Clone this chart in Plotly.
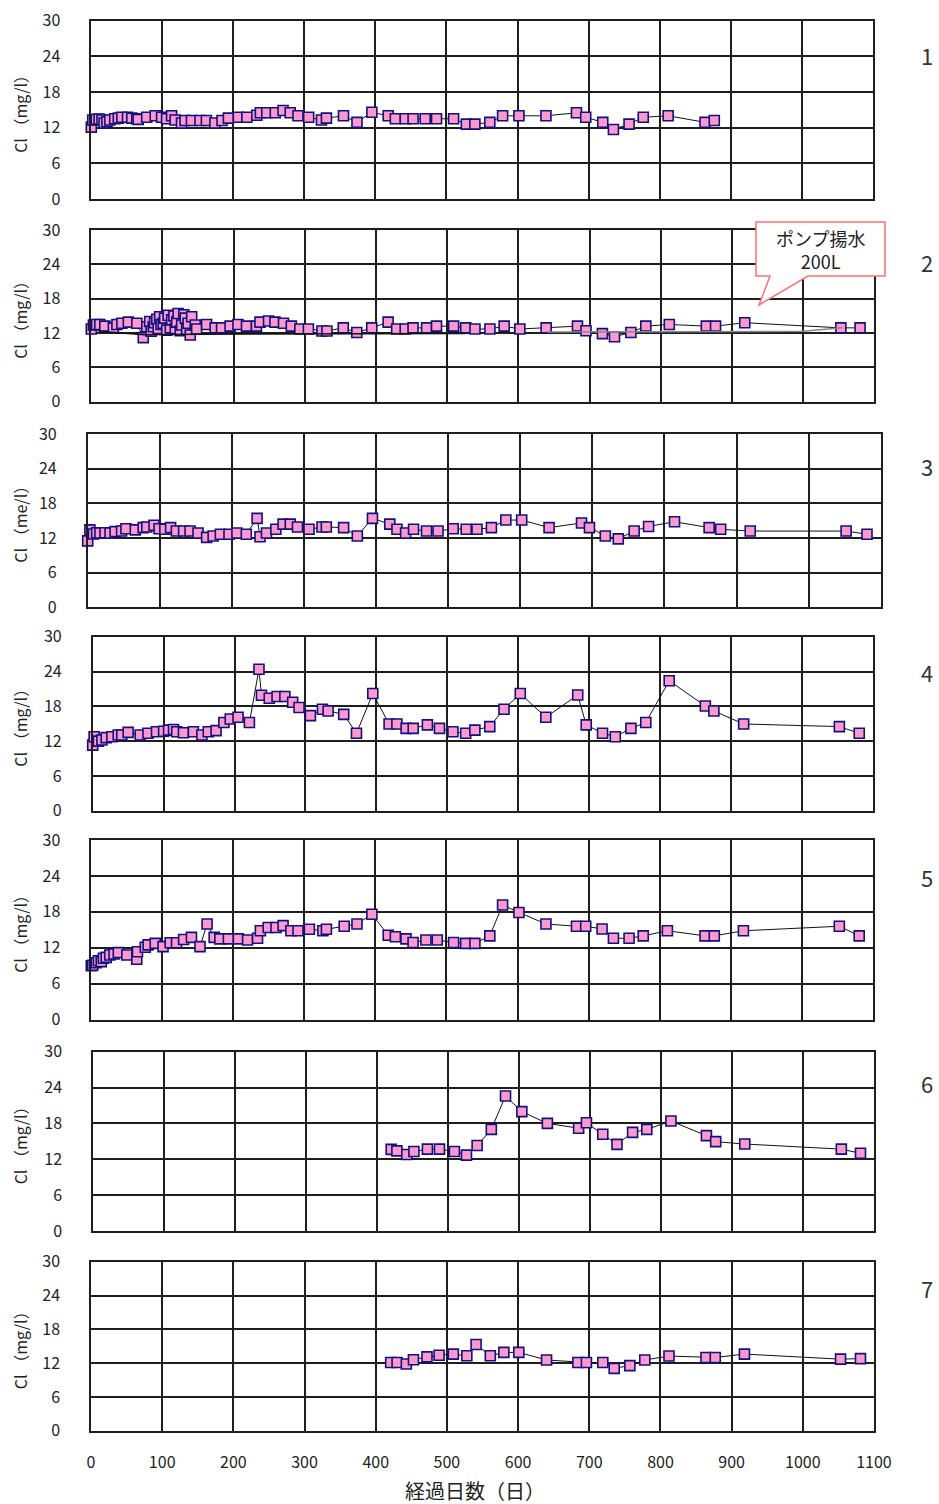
import plotly.graph_objects as go

W, H = 939, 1504

# ---------------- data ----------------
x_ticks = [0, 100, 200, 300, 400, 500, 600, 700, 800, 900, 1000, 1100]
y_ticks = [0, 6, 12, 18, 24, 30]
panel_labels = ["1", "2", "3", "4", "5", "6", "7"]
y_titles = ["Cl （mg/l）", "Cl （mg/l）", "Cl （me/l）", "Cl （mg/l）",
            "Cl （mg/l）", "Cl （mg/l）", "Cl （mg/l）"]
x_title = "経過日数（日）"
callout_text = "ポンプ揚水<br>200L"

days1 = [0, 2, 7, 11, 15, 18, 22, 26, 33, 38, 43, 51, 57, 64, 66, 78, 90, 99, 106, 113,
         118, 127, 132, 141, 153, 162, 174, 184, 193, 207, 219, 233, 238, 247, 259, 270,
         280, 291, 306, 324, 331, 355, 374, 395, 418, 428, 442, 453, 470, 486, 510, 528,
         540, 561, 579, 602, 640, 683, 696, 720, 735, 757, 777, 812, 864, 877]
cl1 = [12.1, 13.3, 13.4, 13.45, 13.3, 12.8, 13.0, 13.3, 13.5, 13.6, 13.75, 13.75, 13.6, 13.5,
       13.4, 13.75, 14.0, 13.75, 13.5, 14.0, 13.3, 12.8, 13.2, 13.2, 13.2, 13.2, 12.8, 13.2,
       13.6, 13.75, 13.75, 14.1, 14.5, 14.5, 14.5, 14.9, 14.5, 14.0, 13.75, 13.3, 13.6, 14.0,
       12.9, 14.6, 14.0, 13.5, 13.5, 13.5, 13.5, 13.5, 13.5, 12.6, 12.6, 12.9, 14.0, 14.0,
       14.0, 14.5, 13.75, 12.9, 11.7, 12.6, 13.75, 14.0, 12.9, 13.2]

days2 = [0, 3, 7.5, 12, 19, 31, 36, 43, 52, 64, 73, 78, 82, 84, 87, 89, 92, 94, 96, 98,
         101, 103, 106, 108, 111, 113, 116, 118, 120, 122, 125, 127, 130, 132, 134, 136, 139,
         141, 146, 148, 162, 174, 183, 195, 206, 218, 232, 237, 249, 258, 270, 281, 293, 305,
         324, 331, 354, 373, 394, 417, 429, 441, 452, 471, 485, 509, 526, 539, 560, 580, 602,
         639, 683, 695, 718, 735, 758, 779, 812, 864, 877, 918, 1053, 1080]
cl2 = [12.7, 13.4, 13.5, 13.5, 13.2, 12.9, 13.5, 13.7, 13.9, 13.7, 11.2, 13.1, 14.0, 12.3,
       13.1, 13.8, 14.4, 12.8, 14.85, 13.5, 13.7, 14.6, 12.5, 15.1, 12.9, 14.3, 15.0, 12.8,
       13.9, 15.4, 12.4, 13.4, 15.2, 14.6, 12.6, 13.7, 11.65, 14.85, 13.4, 12.7, 13.5, 12.9,
       12.9, 13.2, 13.5, 13.2, 13.2, 13.9, 14.1, 13.9, 13.7, 13.2, 12.7, 12.7, 12.35, 12.35,
       12.9, 12.1, 12.9, 13.9, 12.7, 12.7, 12.9, 12.9, 13.2, 13.2, 12.9, 12.7, 12.7, 13.2,
       12.7, 12.9, 13.2, 12.4, 11.9, 11.35, 12.1, 13.2, 13.5, 13.2, 13.2, 13.8, 12.9, 12.9]
# extra line-only series in panel 2
days2_b = [10, 75, 150, 320, 525]
cl2_b = [12.3, 11.7, 11.8, 11.9, 11.9]
days2_c = [640, 740, 860, 1000, 1055]
cl2_c = [12.2, 12.2, 12.3, 12.3, 12.9]

days3 = [0, 3, 8, 12.5, 17, 24, 31, 38, 47, 53, 66, 77, 82, 92, 99, 107, 115, 123, 133, 142,
         153, 165, 174, 184, 196, 207, 220, 235, 239, 248, 261, 271, 281, 291, 307, 325, 331,
         355, 374, 395, 419, 429, 441, 452, 470, 486, 507, 525, 540, 560, 580, 602, 640, 685,
         696, 718, 736, 758, 778, 814, 862, 878, 919, 1052, 1081]
cl3 = [11.5, 13.4, 12.7, 12.9, 12.85, 12.9, 12.85, 13.1, 13.2, 13.6, 13.4, 13.8, 13.9, 14.2,
       13.6, 13.5, 13.8, 13.2, 13.2, 13.2, 12.85, 12.1, 12.35, 12.65, 12.65, 12.85, 12.65,
       15.4, 12.2, 12.85, 13.5, 14.4, 14.4, 13.9, 13.5, 13.9, 13.9, 13.8, 12.35, 15.4, 14.4,
       13.5, 12.85, 13.5, 13.2, 13.2, 13.6, 13.5, 13.5, 13.8, 15.1, 15.1, 13.8, 14.6, 13.8,
       12.35, 11.85, 13.2, 14.0, 14.8, 13.8, 13.5, 13.2, 13.2, 12.65]

days4 = [0, 2, 8, 13, 19, 27, 36, 41, 50, 67, 78, 90, 100, 107, 114, 118.5, 128, 142, 154,
         163, 174, 185, 194, 205, 221, 234.5, 238, 249, 260, 271, 282, 291, 307, 324, 332, 354,
         372, 395, 418, 429, 442, 452, 472, 489, 508, 526, 539, 560, 580, 603, 639, 684, 696,
         719, 737, 759, 780, 813, 864, 876, 918, 1053, 1081]
cl4 = [11.3, 12.76, 12.0, 12.2, 12.6, 12.76, 13.05, 13.05, 13.5, 13.05, 13.35, 13.6, 13.7,
       13.9, 14.0, 13.6, 13.45, 13.6, 13.05, 13.6, 13.8, 15.2, 15.8, 16.1, 15.2, 24.4, 19.9,
       19.4, 19.7, 19.7, 18.7, 17.8, 16.4, 17.5, 17.2, 16.6, 13.35, 20.2, 14.95, 14.95, 14.2,
       14.2, 14.8, 14.2, 13.6, 13.35, 13.9, 14.5, 17.5, 20.2, 16.1, 19.95, 14.8, 13.35, 12.76,
       14.2, 15.2, 22.4, 18.05, 17.2, 14.95, 14.5, 13.35]

days5 = [0, 2, 7, 10, 14, 17, 21, 26, 32, 38, 50, 64, 65, 76, 80, 90, 101, 111, 120, 130,
         141, 153, 163, 173, 181, 193, 207, 220, 234, 238, 249, 260, 270, 281, 291, 307, 326,
         331, 356, 374, 395, 418, 428, 443, 453, 471, 487, 510, 527, 540, 561, 579, 602, 640,
         683, 696, 719, 735, 757, 777, 811, 864, 877, 918, 1053, 1081]
cl5 = [9.0, 9.1, 9.5, 9.85, 9.7, 10.25, 10.4, 10.8, 10.97, 11.2, 10.8, 10.1, 11.35, 12.1,
       12.5, 12.75, 12.2, 12.85, 12.85, 13.4, 13.75, 12.2, 15.98, 13.75, 13.5, 13.5, 13.5,
       13.3, 13.6, 14.85, 15.4, 15.4, 15.7, 14.85, 14.85, 15.1, 14.85, 15.1, 15.6, 15.98, 17.6,
       14.1, 13.85, 13.5, 12.9, 13.3, 13.3, 12.9, 12.75, 12.75, 14.0, 19.15, 17.9, 15.98,
       15.6, 15.6, 15.15, 13.6, 13.6, 14.0, 14.85, 14.0, 14.0, 14.85, 15.6, 14.0]

days6 = [420, 428, 442, 452, 471, 488, 509, 526, 541, 561, 581, 604, 640, 684, 695, 718, 738,
         760, 780, 814, 864, 877, 918, 1054, 1081]
cl6 = [13.66, 13.4, 12.8, 13.3, 13.7, 13.7, 13.3, 12.7, 14.3, 17.0, 22.6, 19.97, 18.0, 17.2,
       18.1, 16.2, 14.5, 16.5, 17.0, 18.4, 15.95, 14.95, 14.55, 13.7, 13.0]

days7 = [421, 430, 443, 453, 472, 489, 509, 528, 541, 561, 580, 601, 640, 684, 696, 719, 735,
         757, 778, 812, 864, 877, 918, 1053, 1081]
cl7 = [12.1, 12.1, 11.85, 12.6, 13.1, 13.4, 13.6, 13.3, 15.3, 13.3, 13.9, 13.9, 12.55, 12.1,
       12.1, 12.1, 11.07, 11.55, 12.55, 13.25, 13.0, 13.0, 13.6, 12.7, 12.8]

series = [(days1, cl1), (days2, cl2), (days3, cl3), (days4, cl4),
          (days5, cl5), (days6, cl6), (days7, cl7)]

# ---------------- layout helpers (pixel boxes of each plot area) ----------------
boxes = [  # left, right, top, bottom (px)
    (91.3, 872.7, 20.7, 199.0),
    (91.3, 874.3, 230.0, 401.7),
    (87.7, 880.7, 434.0, 607.3),
    (92.7, 872.7, 636.7, 810.7),
    (91.3, 872.7, 840.0, 1019.7),
    (93.0, 874.0, 1051.7, 1231.0),
    (91.0, 874.0, 1261.7, 1430.7),
]
label_y = [55, 262, 466, 672, 877, 1083, 1288]


def px(x):
    return x / W


def py(y):
    return 1 - y / H


FONT = "Noto Sans CJK JP, sans-serif"
TICKFONT = dict(family=FONT, size=16, color="#222")
MARK = dict(symbol="square", size=10, color="#FF99CC",
            line=dict(color="#101080", width=1.6))

fig = go.Figure()
layout = dict(width=W, height=H, margin=dict(l=0, r=0, t=0, b=0, autoexpand=False),
              paper_bgcolor="white", plot_bgcolor="white", showlegend=False,
              font=dict(family=FONT, color="#222", size=14))
annotations = []


def note(x, y, text, size, **kw):
    d = dict(xref="paper", yref="paper", x=px(x), y=py(y), text=text, showarrow=False,
             xanchor="center", yanchor="middle",
             font=dict(family=FONT, size=size, color=kw.pop("color", "#222")))
    d.update(kw)
    annotations.append(d)


for i, ((d, v), (l, r, t, b)) in enumerate(zip(series, boxes)):
    n = i + 1
    xa = "x" if n == 1 else f"x{n}"
    ya = "y" if n == 1 else f"y{n}"
    fig.add_trace(go.Scatter(x=d, y=v, mode="lines+markers", xaxis=xa, yaxis=ya,
                             line=dict(color="#111", width=1), marker=MARK,
                             cliponaxis=False))
    last = (n == 7)
    layout[f"xaxis{'' if n == 1 else n}"] = dict(
        domain=[px(l), px(r)], anchor=ya, range=[0, 1100], tickvals=x_ticks,
        showticklabels=last, ticks="", ticklabelstandoff=16, automargin=False,
        showgrid=True, gridcolor="#1e1e1e", gridwidth=1.5, zeroline=False,
        showline=True, mirror=True, linecolor="#1e1e1e", linewidth=1.5,
        tickfont=TICKFONT)
    layout[f"yaxis{'' if n == 1 else n}"] = dict(
        domain=[py(b), py(t)], anchor=xa, range=[0, 30], tickvals=y_ticks,
        ticks="", ticklabelstandoff=26, automargin=False,
        showgrid=True, gridcolor="#1e1e1e", gridwidth=1.5, zeroline=False,
        showline=True, mirror=True, linecolor="#1e1e1e", linewidth=1.5,
        tickfont=TICKFONT)
    note(20, (t + b) / 2, y_titles[i], 16, textangle=-90)
    note(927, label_y[i], panel_labels[i], 22, color="#333")

# extra lines in panel 2
fig.add_trace(go.Scatter(x=days2_b, y=cl2_b, mode="lines", xaxis="x2", yaxis="y2",
                         line=dict(color="#111", width=1.5)))
fig.add_trace(go.Scatter(x=days2_c, y=cl2_c, mode="lines", xaxis="x2", yaxis="y2",
                         line=dict(color="#888", width=1.5)))

note(475, 1490, x_title, 20)

# callout in panel 2
pts = [(756, 222), (885, 222), (885, 276), (808, 276), (759, 305), (770, 276), (756, 276)]
path = "M " + " L ".join(f"{px(x):.5f},{py(y):.5f}" for x, y in pts) + " Z"
layout["shapes"] = [dict(type="path", xref="paper", yref="paper", path=path,
                         fillcolor="white", line=dict(color="#FF6F6F", width=1.5),
                         layer="above")]
note(820, 250, callout_text, 18, align="center")

layout["annotations"] = annotations
fig.update_layout(**layout)
fig.write_html("out.html", config={"displayModeBar": False},
               post_script="document.body.style.margin='0';")
